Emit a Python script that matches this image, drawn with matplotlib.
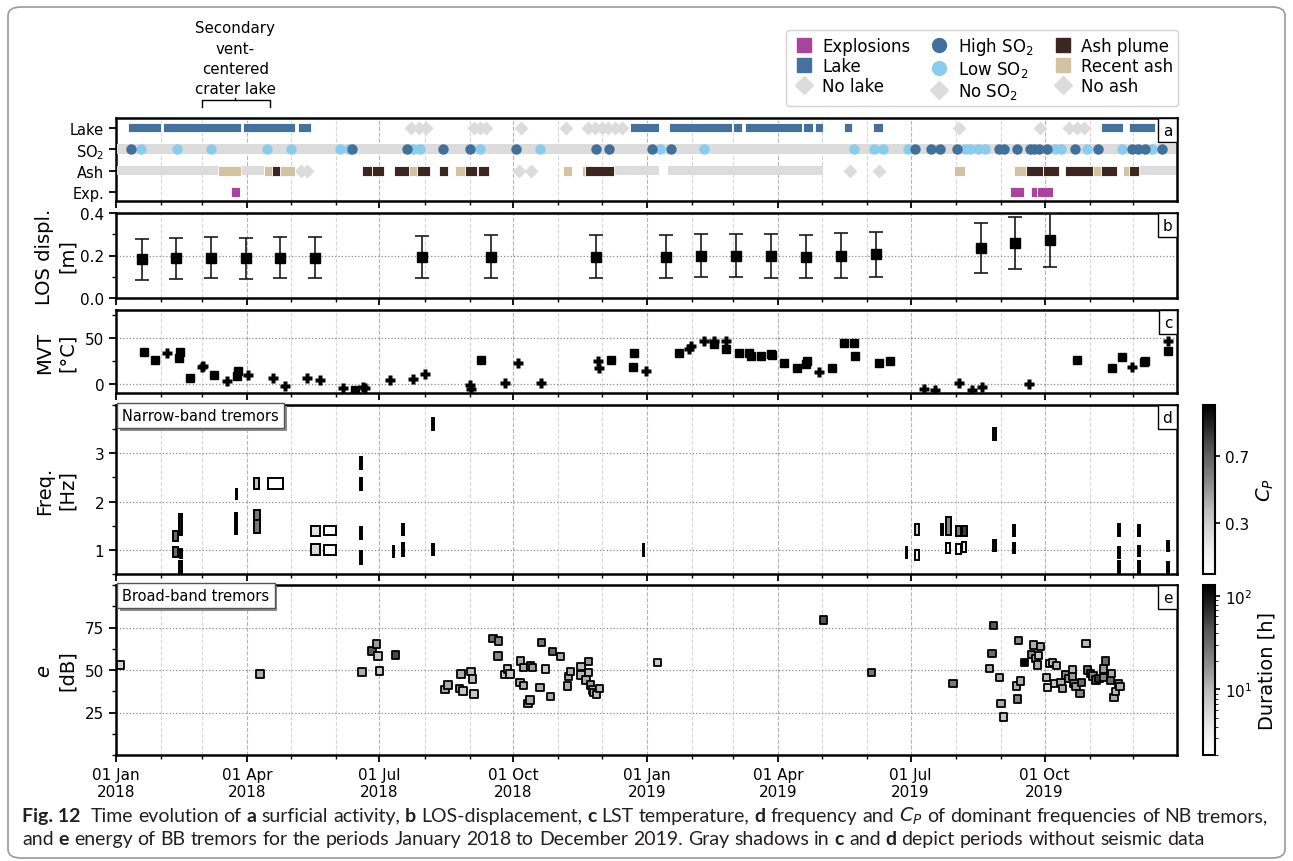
import numpy as np
import matplotlib
matplotlib.use("Agg")
import matplotlib.pyplot as plt
import matplotlib.dates as mdates
import matplotlib.patheffects as pe
from matplotlib.lines import Line2D
from matplotlib.patches import Rectangle, FancyBboxPatch
from matplotlib.colors import Normalize, LogNorm
from matplotlib.cm import ScalarMappable
from matplotlib.ticker import MultipleLocator, FixedLocator
from datetime import datetime

plt.rcParams['font.family'] = 'DejaVu Sans'

# all times in days since 01 Jan 2018
T0 = mdates.date2num(datetime(2018, 1, 1))

# ---------------- (a) surficial activity ----------------
row_labels = ['Exp.', 'Ash', 'SO$_2$', 'Lake']
lake_spans = [(8, 31), (32, 86), (87, 123), (125, 134), (353, 373), (380, 423),
              (424, 430), (432, 471), (472, 479), (480, 486), (500, 506),
              (520, 527), (677, 692), (696, 714)]
no_lake_days = [203, 208, 213, 246, 250, 254, 278, 309, 324, 329, 334, 338,
                343, 348, 579, 635, 655, 660, 665]
so2_high_days = [10, 162, 200, 225, 243, 275, 330, 339, 368, 381, 549, 560, 566,
                 578, 607, 610, 619, 628, 631, 634, 640, 659, 675, 698, 702,
                 707, 719]
so2_low_days = [17, 42, 65, 104, 120, 154, 160, 204, 209, 250, 291, 374, 404,
                507, 521, 527, 544, 583, 587, 592, 597, 645, 649, 667, 691, 712]
no_so2_spans = [(1, 728)]
ash_plume_spans = [(107, 113), (169, 176), (176, 184), (191, 201), (207, 216),
                   (222, 228), (240, 248), (249, 256), (322, 342), (625, 637),
                   (637, 648), (652, 671), (677, 688), (696, 703)]
recent_ash_spans = [(70, 86), (102, 107), (113, 123), (201, 207), (233, 240),
                    (307, 313), (320, 322), (576, 583), (617, 625), (671, 677),
                    (692, 696)]
no_ash_spans = [(1, 70), (86, 102), (342, 373), (379, 486), (703, 728)]
no_ash_days = [127, 131, 277, 285, 504, 524]
explosion_spans = [(79, 85), (614, 624), (629, 633), (633, 644)]

# ---------------- (b) LOS displacement ----------------
los_days = [18, 41, 65, 89, 113, 137, 210, 258, 330, 378, 402, 426, 450, 474,
            498, 522, 594, 618, 642]
los_disp = [0.182, 0.186, 0.19, 0.186, 0.19, 0.19, 0.193, 0.195, 0.195, 0.195,
            0.2, 0.2, 0.197, 0.195, 0.2, 0.205, 0.237, 0.258, 0.273]
los_err = [0.095, 0.097, 0.098, 0.098, 0.098, 0.098, 0.1, 0.1, 0.1, 0.1, 0.102,
           0.102, 0.103, 0.103, 0.105, 0.105, 0.118, 0.122, 0.125]

# ---------------- (c) MVT ----------------
mvt_sq_days = [19, 27, 43, 44, 51, 67, 83, 84, 164, 251, 340, 355, 356, 387, 411,
               419, 428, 435, 436, 443, 450, 451, 459, 468, 474, 475, 492, 500,
               507, 508, 524, 532, 660, 684, 691, 706, 707, 723]
mvt_sq_temp = [34.6, 25.7, 27.5, 34, 6.8, 9.6, 8.2, 14.3, -7.1, 25.7, 25.7, 18.6,
               32.9, 32.9, 42.9, 37.5, 32.9, 32.9, 29.6, 29.6, 32.1, 31, 22.5,
               17.1, 21.4, 25, 17.1, 44.6, 44.6, 29.6, 22.5, 25, 25.7, 16.8,
               29.3, 23.9, 24.3, 35.7]
mvt_pl_days = [35, 59, 60, 76, 91, 108, 116, 131, 140, 156, 170, 171, 188, 204,
               212, 243, 244, 267, 276, 292, 331, 332, 364, 394, 395, 404, 411,
               419, 483, 555, 563, 579, 588, 595, 627, 698, 723]
mvt_pl_temp = [32.9, 17.9, 19.6, 2.5, 9.6, 6.1, -2.5, 6.1, 3.6, -4.6, -3.5, -4.6,
               3.6, 5.4, 10.4, -1.1, -5.4, 0.7, 22.5, 0.7, 24.6, 16.8, 13.9,
               37.5, 41, 46.4, 46.4, 46.4, 13.2, -5.4, -7.1, 0.7, -7.1, -3.6, 0,
               18.6, 46.4]

# ---------------- (d) narrow-band tremors ----------------
# start, end, f_low, f_high, Cp
nb_windows = [
    (39, 42.5, 1.18, 1.40, 0.65), (39.3, 42.5, 0.85, 1.06, 0.65),
    (43.6, 45.3, 1.30, 1.75, 0.95), (44, 45.3, 0.83, 1.02, 0.9),
    (43.6, 45.3, 0.40, 0.76, 0.95), (82.4, 83.4, 2.05, 2.26, 0.95),
    (81.8, 83.3, 1.33, 1.76, 0.95), (95, 98.4, 2.26, 2.48, 0.35),
    (104.3, 114.6, 2.27, 2.49, 0.03), (95, 98.6, 1.56, 1.82, 0.6),
    (95, 98.6, 1.34, 1.61, 0.6), (134.2, 140.3, 1.29, 1.50, 0.2),
    (143.0, 151.4, 1.30, 1.50, 0.02), (134.2, 140.3, 0.90, 1.12, 0.25),
    (143.0, 151.4, 0.89, 1.11, 0.02), (167.4, 169.2, 2.68, 2.92, 0.95),
    (167.4, 169.2, 2.24, 2.48, 0.95), (167.4, 169.2, 1.23, 1.47, 0.95),
    (167.4, 169.2, 0.71, 0.97, 0.95), (196.4, 198, 1.30, 1.54, 0.95),
    (196.4, 198, 0.88, 1.15, 0.95), (190.2, 191.3, 0.85, 1.09, 0.9),
    (217.2, 218.8, 3.49, 3.73, 0.95), (217, 218.6, 0.89, 1.12, 0.9),
    (361.9, 363.1, 0.88, 1.12, 0.9), (542.6, 543.4, 0.84, 1.06, 0.8),
    (548.8, 552, 1.31, 1.54, 0.3), (548.8, 551.7, 0.80, 0.99, 0.05),
    (566.8, 568.1, 1.30, 1.54, 0.95), (570.3, 573.8, 1.31, 1.68, 0.55),
    (570.3, 573.3, 0.94, 1.15, 0.1), (577, 580.7, 1.28, 1.50, 0.6),
    (581.4, 584.6, 1.28, 1.50, 0.8), (577, 580.7, 0.92, 1.12, 0.05),
    (581.4, 583.8, 0.95, 1.17, 0.1), (602.8, 604.6, 3.28, 3.53, 0.95),
    (602.8, 604.4, 0.97, 1.20, 0.95), (616.2, 617.4, 1.29, 1.52, 0.95),
    (616.2, 617.4, 0.94, 1.15, 0.95), (688.6, 689.8, 1.29, 1.54, 0.95),
    (688.6, 689.8, 0.84, 1.05, 0.95), (688.6, 689.8, 0.40, 0.76, 0.95),
    (702, 703.3, 1.29, 1.52, 0.95), (702, 703.3, 0.87, 1.08, 0.95),
    (702, 703.3, 0.40, 0.76, 0.95), (722.4, 723.6, 0.97, 1.18, 0.95),
    (722.4, 723.6, 0.40, 0.74, 0.95),
]

# ---------------- (e) broad-band tremors ----------------
bb_days = [3, 99, 169, 176, 179, 180, 181, 192, 226, 228, 236, 237, 238.5, 244,
           245, 246, 259, 263, 262.5, 267, 269, 270.6, 278, 280, 277.5, 280,
           283, 284.5, 285, 286, 291.4, 292.4, 295, 298.5, 300, 305.4, 310.4,
           311, 312.3, 319.6, 319.6, 323, 324.5, 324.5, 326, 327.5, 328, 330,
           332, 372, 486, 519, 575, 603, 600, 602, 607, 608, 610, 620, 624,
           618.6, 621.6, 619.4, 630.5, 635, 629, 631.6, 634, 633, 639.4, 640,
           641.5, 643.6, 646, 645, 649.3, 650.5, 652.5, 654.3, 657.2, 657.2,
           658.3, 659.5, 662.3, 663.3, 666.4, 667.7, 669.4, 671.4, 673.3,
           675.5, 678.7, 680, 678.7, 683.2, 684, 685.6, 686.6, 688.6, 689.8]
bb_energy = [52.9, 47.6, 48.8, 61.2, 65.2, 58.3, 49.4, 58.9, 38.6, 41.1, 39.2,
             47.6, 37.6, 49, 44.7, 35.8, 68.7, 67.1, 58.3, 47.4, 50.6, 47.6,
             55.3, 51.6, 42.7, 40.7, 30.3, 32.3, 52.4, 51.6, 39.6, 66.1, 50.6,
             34.6, 60.8, 57.9, 40.6, 46.1, 49, 52, 47, 44.1, 54.9, 48.6, 41.1,
             38.2, 36.8, 35.6, 39.2, 54.3, 79.5, 48.6, 42.1, 76.2, 51, 59.8,
             45.5, 30.3, 22.4, 67.3, 54.5, 40.6, 43.5, 32.9, 64.8, 63.8, 59.3,
             56.9, 58.5, 53, 45.7, 39.6, 53.9, 54.3, 52.6, 41.9, 42.7, 39.2,
             47, 45.1, 50, 46, 42.1, 40.2, 36.2, 42.5, 65.4, 50, 48, 46.5,
             44.1, 45.1, 50.6, 55.3, 45.5, 44.1, 48, 33.7, 37.2, 42.1, 40.2]
bb_duration = [6, 12, 12, 40, 15, 8, 8, 50, 12, 12, 15, 12, 8, 10, 10, 8, 30, 20,
               20, 8, 8, 8, 12, 12, 12, 12, 12, 12, 15, 15, 12, 25, 8, 12, 30,
               12, 12, 12, 12, 10, 10, 12, 15, 10, 15, 12, 12, 10, 10, 7, 45,
               25, 25, 40, 12, 30, 12, 12, 8, 20, 130, 12, 12, 20, 12, 12, 20,
               12, 8, 12, 10, 6, 8, 10, 10, 8, 12, 12, 20, 15, 10, 15, 20, 15,
               20, 30, 10, 25, 20, 20, 40, 60, 15, 30, 20, 30, 12, 12, 10, 20, 12]

# colours
c_exp = '#a8449b'
c_lake = '#44729d'
c_high = '#41709b'
c_low = '#88cdee'
c_plume = '#3c2620'
c_recent = '#d1c2a1'
c_no = '#dcdcdc'

W, H = 1293, 862
fig = plt.figure(figsize=(W / 100, H / 100), dpi=100)


def px_axes(x0, x1, y0, y1):
    return fig.add_axes([x0 / W, 1 - y1 / H, (x1 - x0) / W, (y1 - y0) / H])


ax_a = px_axes(116, 1177, 119, 202)
ax_b = px_axes(116, 1177, 214, 299)
ax_c = px_axes(116, 1177, 311, 394)
ax_d = px_axes(116, 1177, 406, 575)
ax_e = px_axes(116, 1177, 586, 756)
cax_d = px_axes(1203, 1215, 406, 575)
cax_e = px_axes(1203, 1215, 586, 756)

axes = [ax_a, ax_b, ax_c, ax_d, ax_e]
for ax in axes:
    ax.set_xlim(T0, mdates.date2num(datetime(2019, 12, 31)))
    ax.xaxis.set_major_locator(mdates.MonthLocator(bymonth=[1, 4, 7, 10]))
    ax.xaxis.set_minor_locator(mdates.MonthLocator())
    ax.xaxis.set_major_formatter(mdates.DateFormatter('%d %b\n%Y'))
    ax.grid(axis='x', which='major', color='#b5b5b5', ls='--', lw=0.8)
    ax.grid(axis='x', which='minor', color='#d8d8d8', ls='--', lw=0.8)
    ax.set_axisbelow(True)
    for s in ax.spines.values():
        s.set_linewidth(1.8)
    ax.tick_params(which='major', direction='out', length=5, width=1.3, labelsize=11)
    ax.tick_params(which='minor', direction='out', length=3, width=1.0)
    if ax is not ax_e:
        ax.tick_params(labelbottom=False)
    if ax is not ax_a:
        ax.grid(axis='y', which='major', color='#8c8c8c', ls=':', lw=0.9)


def panel_letter(ax, s):
    ax.annotate(s, xy=(1, 1), xycoords='axes fraction', xytext=(-3.5, -3.5),
                textcoords='offset points', ha='right', va='top', fontsize=11,
                bbox=dict(boxstyle='square,pad=0.3', fc='white', ec='k', lw=1.0),
                zorder=10)


def spans(ax, sp, y, h, color, ec='white'):
    ax.broken_barh([(T0 + s, e - s) for s, e in sp], (y - h / 2, h),
                   facecolors=color, edgecolors=ec, linewidth=0.6, zorder=3)


# ---- (a)
spans(ax_a, no_so2_spans, 2, 0.44, c_no, ec='none')
spans(ax_a, no_ash_spans, 1, 0.44, c_no, ec='none')
ax_a.plot(T0 + np.array(no_lake_days), np.full(len(no_lake_days), 3), 'D',
          color=c_no, ms=7.5, mec='none', zorder=3)
ax_a.plot(T0 + np.array(no_ash_days), np.full(len(no_ash_days), 1), 'D',
          color=c_no, ms=7.5, mec='none', zorder=3)
spans(ax_a, lake_spans, 3, 0.44, c_lake)
spans(ax_a, recent_ash_spans, 1, 0.47, c_recent)
spans(ax_a, ash_plume_spans, 1, 0.47, c_plume)
spans(ax_a, explosion_spans, 0, 0.5, c_exp)
ax_a.plot(T0 + np.array(so2_low_days), np.full(len(so2_low_days), 2), 'o',
          color=c_low, ms=7.5, mec='none', zorder=4)
ax_a.plot(T0 + np.array(so2_high_days), np.full(len(so2_high_days), 2), 'o',
          color=c_high, ms=7.5, mec='none', zorder=5)
ax_a.set_ylim(-0.42, 3.45)
ax_a.set_yticks([0, 1, 2, 3])
ax_a.set_yticklabels(row_labels, fontsize=10.5)
panel_letter(ax_a, 'a')

# bracket for the secondary vent lake
bx0, bx1, bxm = T0 + 59, T0 + 106, T0 + 82
trans = ax_a.get_xaxis_transform()
ax_a.plot([bx0, bx0, bx1, bx1], [1.13, 1.215, 1.215, 1.13], color='k', lw=1,
          transform=trans, clip_on=False)
ax_a.plot([bxm, bxm], [1.215, 1.245], color='k', lw=1, transform=trans, clip_on=False)
ax_a.text(bxm, 1.26, 'Secondary\nvent-\ncentered\ncrater lake', transform=trans,
          ha='center', va='bottom', fontsize=10.8, linespacing=1.45)

# legend
leg_handles = [
    Line2D([], [], ls='none', marker='s', color=c_exp, ms=10),
    Line2D([], [], ls='none', marker='s', color=c_lake, ms=10),
    Line2D([], [], ls='none', marker='D', color=c_no, ms=9),
    Line2D([], [], ls='none', marker='o', color=c_high, ms=10),
    Line2D([], [], ls='none', marker='o', color=c_low, ms=10),
    Line2D([], [], ls='none', marker='D', color=c_no, ms=9),
    Line2D([], [], ls='none', marker='s', color=c_plume, ms=10),
    Line2D([], [], ls='none', marker='s', color=c_recent, ms=10),
    Line2D([], [], ls='none', marker='D', color=c_no, ms=9),
]
leg_labels = ['Explosions', 'Lake', 'No lake', 'High SO$_2$', 'Low SO$_2$',
              'No SO$_2$', 'Ash plume', 'Recent ash', 'No ash']
fig.legend(leg_handles, leg_labels, ncol=3, loc='upper right',
           bbox_to_anchor=(1178 / W, 1 - 31 / H), fontsize=12, frameon=True,
           fancybox=True, edgecolor='#c8c8c8', handletextpad=0.35,
           columnspacing=1.0, borderpad=0.3, labelspacing=0.12, handlelength=1.5,
           borderaxespad=0)

# ---- (b)
ax_b.errorbar(T0 + np.array(los_days), los_disp, yerr=los_err, fmt='s', color='k',
              ms=6.5, ecolor='#1a1a1a', elinewidth=1.2, capsize=5, capthick=1.2,
              zorder=4)
ax_b.set_ylim(0, 0.4)
ax_b.set_yticks([0.0, 0.2, 0.4])
ax_b.yaxis.set_minor_locator(MultipleLocator(0.1))
ax_b.set_ylabel('LOS displ.\n[m]', fontsize=14, linespacing=1.25)
panel_letter(ax_b, 'b')

# ---- (c)
ax_c.plot(T0 + np.array(mvt_sq_days), mvt_sq_temp, 's', color='k', ms=5.5, zorder=4)
ax_c.plot(T0 + np.array(mvt_pl_days), mvt_pl_temp, 'P', color='k', ms=6.5,
          mec='none', zorder=4)
ax_c.set_ylim(-10, 80)
ax_c.set_yticks([0, 50])
ax_c.yaxis.set_minor_locator(MultipleLocator(25))
ax_c.set_ylabel('MVT\n[°C]', fontsize=14, linespacing=1.25)
panel_letter(ax_c, 'c')

# ---- (d)
cmap = plt.get_cmap('Greys')
cp_norm = Normalize(0, 1)
for s, e, flo, fhi, cp in nb_windows:
    ax_d.add_patch(Rectangle((T0 + s, flo), e - s, fhi - flo,
                             facecolor=cmap(cp_norm(cp)), edgecolor='k', lw=1.4,
                             zorder=4))
ax_d.set_ylim(0.5, 4.0)
ax_d.set_yticks([1, 2, 3])
ax_d.yaxis.set_minor_locator(MultipleLocator(0.5))
ax_d.set_ylabel('Freq.\n[Hz]', fontsize=14, linespacing=1.25)
panel_letter(ax_d, 'd')


def boxed_title(ax, s):
    t = ax.text(0.006, 0.982, s, transform=ax.transAxes, ha='left', va='top',
                fontsize=10.5, zorder=10,
                bbox=dict(boxstyle='square,pad=0.35', fc='white', ec='#555555', lw=1))
    t.get_bbox_patch().set_path_effects([
        pe.SimplePatchShadow(offset=(2, -2), shadow_rgbFace='0.55', alpha=1),
        pe.Normal()])


boxed_title(ax_d, 'Narrow-band tremors')
cb_d = fig.colorbar(ScalarMappable(norm=cp_norm, cmap=cmap), cax=cax_d)
cb_d.set_ticks([0.3, 0.7])
cb_d.set_label('$C_P$', fontsize=14)
cb_d.outline.set_linewidth(1.5)
cb_d.ax.tick_params(labelsize=11, width=1.2)

# ---- (e)
sc = ax_e.scatter(T0 + np.array(bb_days), bb_energy, c=bb_duration, cmap=cmap,
                  norm=LogNorm(2, 130), marker='s', s=28, edgecolors='k',
                  linewidths=1.3, zorder=4)
ax_e.set_ylim(0, 100)
ax_e.yaxis.set_major_locator(FixedLocator([25, 50, 75]))
ax_e.yaxis.set_minor_locator(MultipleLocator(12.5))
ax_e.set_ylabel('$e$\n[dB]', fontsize=14, linespacing=1.25)
panel_letter(ax_e, 'e')
boxed_title(ax_e, 'Broad-band tremors')
cb_e = fig.colorbar(sc, cax=cax_e)
cb_e.set_label('Duration [h]', fontsize=14)
cb_e.outline.set_linewidth(1.5)
cb_e.ax.tick_params(labelsize=11, width=1.2)

for ax in [ax_b, ax_c, ax_d, ax_e]:
    ax.yaxis.set_label_coords(-0.037, 0.5)

# outer frame
fig.patches.append(FancyBboxPatch((8 / W, 3 / H), 1277 / W, 851 / H,
                                  boxstyle='round,pad=0,rounding_size=0.01',
                                  transform=fig.transFigure, fc='none',
                                  ec='#9a9a9a', lw=1.2))

# caption with bold run-in letters
renderer = fig.canvas.get_renderer()
cap_font = 'Lato'
line1 = [('Fig. 12', True), ('', False), ('Time', False), ('evolution', False),
         ('of', False), ('a', True), ('surficial', False), ('activity,', False),
         ('b', True), ('LOS-displacement,', False), ('c', True), ('LST', False),
         ('temperature,', False), ('d', True), ('frequency', False), ('and', False),
         ('$C_P$', False), ('of', False), ('dominant', False), ('frequencies', False),
         ('of', False), ('NB', False), ('tremors,', False)]
line2 = [('and', False), ('e', True), ('energy', False), ('of', False), ('BB', False),
         ('tremors', False), ('for', False), ('the', False), ('periods', False),
         ('January', False), ('2018', False), ('to', False), ('December', False),
         ('2019.', False), ('Gray', False), ('shadows', False), ('in', False),
         ('c', True), ('and', False), ('d', True), ('depict', False),
         ('periods', False), ('without', False), ('seismic', False), ('data', False)]


def put_line(words, y, size):
    x = 22.0
    arts = []
    t1 = fig.text(0, 0, 'x x', fontsize=size, family=cap_font)
    t2 = fig.text(0, 0, 'xx', fontsize=size, family=cap_font)
    sp = t1.get_window_extent(renderer).width - t2.get_window_extent(renderer).width
    t1.remove()
    t2.remove()
    for w, bold in words:
        if w:
            t = fig.text(x / W, 1 - y / H, w, fontsize=size, family=cap_font,
                         fontweight='bold' if bold else 'normal', va='baseline',
                         color='#231f20')
            arts.append(t)
            x += t.get_window_extent(renderer).width
        x += sp
    return arts, x - sp


arts, xe = put_line(line1, 822, 12)
size = 12 * (1265 - 22) / (xe - 22)
for a in arts:
    a.remove()
put_line(line1, 822, size)
put_line(line2, 845, size)

fig.savefig('out.png', dpi=100)
